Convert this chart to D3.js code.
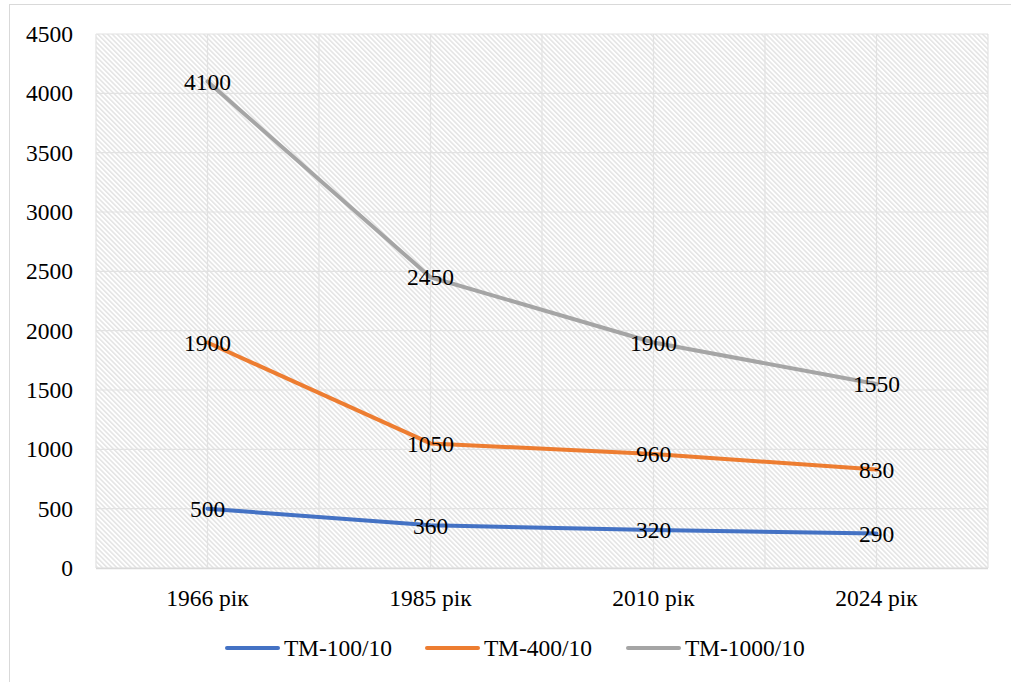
<!DOCTYPE html>
<html>
<head>
<meta charset="utf-8">
<script src="https://cdn.jsdelivr.net/npm/d3@7"></script>
<style>
  html, body { margin: 0; padding: 0; background: #fff; }
  svg text { font-family: "Liberation Serif", "Times New Roman", "DejaVu Serif", serif; fill: #000; }
</style>
</head>
<body>
<svg id="chart" width="1011" height="682"></svg>
<script>
// data
const years = ['1966 рік', '1985 рік', '2010 рік', '2024 рік'];
const tm100 = [500, 360, 320, 290];
const tm400 = [1900, 1050, 960, 830];
const tm1000 = [4100, 2450, 1900, 1550];
const seriesNames = ['ТМ-100/10', 'ТМ-400/10', 'ТМ-1000/10'];
const seriesColors = ['#4472C4', '#ED7D31', '#A5A5A5'];
const yTicks = [0, 500, 1000, 1500, 2000, 2500, 3000, 3500, 4000, 4500];

const FONT = '"Liberation Serif", "Times New Roman", "DejaVu Serif", serif';
const FS = '23.5px';

const series = [tm100, tm400, tm1000].map((values, i) => ({
    name: seriesNames[i],
    color: seriesColors[i],
    values: values
}));

const svg = d3.select('#chart');
const plot = { left: 96, right: 988, top: 34, bottom: 568 };

// outer chart frame
svg.append('rect')
    .attr('x', 9.5).attr('y', 4.5)
    .attr('width', 1200).attr('height', 1000)
    .attr('fill', '#fff')
    .attr('stroke', '#d9d9d9');

// hatch pattern for plot area
const defs = svg.append('defs');
const pat = defs.append('pattern')
    .attr('id', 'hatch')
    .attr('patternUnits', 'userSpaceOnUse')
    .attr('width', 3.4).attr('height', 3.4)
    .attr('patternTransform', 'rotate(-45)');
pat.append('rect').attr('width', 3.4).attr('height', 3.4).attr('fill', '#fff');
pat.append('line')
    .attr('x1', 0.8).attr('y1', 0).attr('x2', 0.8).attr('y2', 3.4)
    .attr('stroke', '#d9d9d9').attr('stroke-width', 1.1);

svg.append('rect')
    .attr('x', plot.left).attr('y', plot.top)
    .attr('width', plot.right - plot.left)
    .attr('height', plot.bottom - plot.top)
    .attr('fill', 'url(#hatch)');

const x = d3.scaleBand().domain(years).range([plot.left, plot.right]);
const xc = d => x(d) + x.bandwidth() / 2;
const y = d3.scaleLinear().domain([0, 4500]).range([plot.bottom, plot.top]);

// gridlines
const grid = svg.append('g').attr('stroke', '#e2e2e2').attr('stroke-width', 1.2);
yTicks.forEach(t => {
    grid.append('line')
        .attr('x1', plot.left).attr('x2', plot.right)
        .attr('y1', y(t)).attr('y2', y(t));
});
const vx = years.map(x).concat([plot.right]).concat(years.map(xc));
vx.forEach(v => {
    grid.append('line')
        .attr('x1', v).attr('x2', v)
        .attr('y1', plot.top).attr('y2', plot.bottom);
});

// x axis baseline
svg.append('line')
    .attr('x1', plot.left).attr('x2', plot.right)
    .attr('y1', plot.bottom + 0.5).attr('y2', plot.bottom + 0.5)
    .attr('stroke', '#d9d9d9').attr('stroke-width', 1.5);

// axes (labels only)
const yAxis = svg.append('g')
    .attr('transform', `translate(${plot.left},0)`)
    .call(d3.axisLeft(y).tickValues(yTicks).tickFormat(d3.format('d')).tickSize(0).tickPadding(23));
yAxis.attr('font-family', null).attr('font-size', null);
yAxis.select('.domain').remove();
yAxis.selectAll('text')
    .style('font-size', FS)
    .style('font-family', FONT)
    .attr('fill', '#000');

const xAxis = svg.append('g')
    .attr('transform', `translate(0,${plot.bottom})`)
    .call(d3.axisBottom(x).tickSize(0).tickPadding(21));
xAxis.attr('font-family', null).attr('font-size', null);
xAxis.select('.domain').remove();
xAxis.selectAll('text')
    .style('font-size', FS)
    .style('font-family', FONT)
    .attr('fill', '#000');

// lines
const line = d3.line()
    .x((d, i) => xc(years[i]))
    .y(d => y(d));

series.forEach(s => {
    svg.append('path')
        .datum(s.values)
        .attr('d', line)
        .attr('fill', 'none')
        .attr('stroke', s.color)
        .attr('stroke-width', 4)
        .attr('stroke-linejoin', 'round')
        .attr('stroke-linecap', 'round');
});

// data labels, centred on the points
series.forEach(s => {
    svg.append('g').selectAll('text')
        .data(s.values)
        .join('text')
        .attr('x', (d, i) => xc(years[i]))
        .attr('y', d => y(d))
        .attr('dy', '0.35em')
        .attr('text-anchor', 'middle')
        .style('font-size', FS)
        .style('font-family', FONT)
        .text(d => d);
});

// legend
const legendX = [227, 427, 628];
const legendY = 648;
const legend = svg.append('g');
series.forEach((s, i) => {
    legend.append('line')
        .attr('x1', legendX[i]).attr('x2', legendX[i] + 51)
        .attr('y1', legendY).attr('y2', legendY)
        .attr('stroke', s.color)
        .attr('stroke-width', 4)
        .attr('stroke-linecap', 'round');
    legend.append('text')
        .attr('x', legendX[i] + 57)
        .attr('y', legendY)
        .attr('dy', '0.35em')
        .style('font-size', FS)
        .style('font-family', FONT)
        .text(s.name);
});
</script>
</body>
</html>
